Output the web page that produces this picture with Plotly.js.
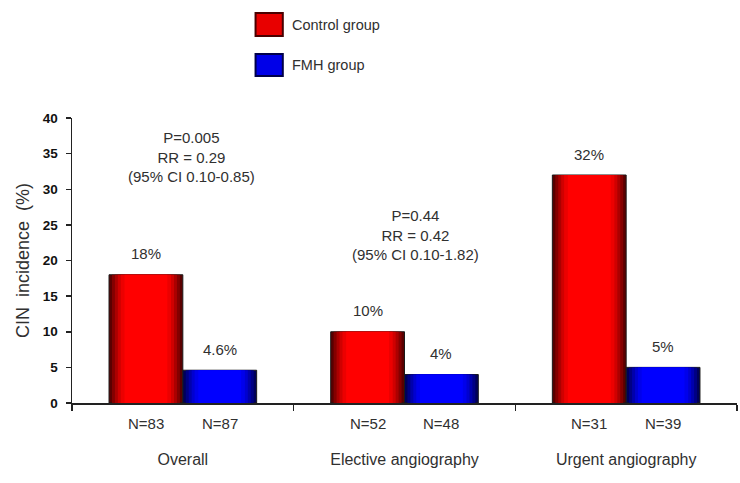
<!DOCTYPE html>
<html>
<head>
<meta charset="utf-8">
<script src="https://cdn.plot.ly/plotly-3.0.1.min.js"></script>
<style>
  html, body { margin: 0; padding: 0; background: #ffffff; }
  #chart { width: 740px; height: 483px; }
</style>
</head>
<body>
<div id="chart"></div>
<script>
// CIN incidence by group and angiography setting
const categories = ["Overall", "Elective angiography", "Urgent angiography"];
const controlValues = [18, 10, 32];
const fmhValues = [4.6, 4, 5];
const controlN = ["N=83", "N=52", "N=31"];
const fmhN = ["N=87", "N=48", "N=39"];
const seriesNames = ["Control group", "FMH group"];
const pValues = ["P=0.005", "P=0.44", "P=0.003"];
const rrValues = ["RR = 0.29", "RR = 0.42", "RR = 0.16"];
const ciValues = ["(95% CI 0.10-0.85)", "(95% CI 0.10-1.82)", "(95% CI 0.04-0.58)"];

// Shading ramps: edge -> centre, giving each bar a rounded, cylinder look
const redRamp  = ["#5a0000", "#840000", "#ac0000", "#d00000", "#ec0000", "#ff0000"];
const blueRamp = ["#00005a", "#000084", "#0000ac", "#0000d0", "#0000ec", "#0000ff"];
const layerFrac = [1.0, 0.92, 0.84, 0.76, 0.68, 0.58];

const FONT = "Arial, 'Liberation Sans', Helvetica, sans-serif";
const TXT = "#303030";
const barW = 0.333;   // width of one bar in category units

function shadedBars(values, ramp, side, name) {
  // side = -1 : bar sits left of category centre, +1 : right
  return layerFrac.map((f, k) => {
    const w = barW * f;
    const inset = barW * (1 - f) / 2;
    const off = side < 0 ? -barW + inset : inset;
    return {
      type: "bar",
      name: name,
      x: categories,
      y: values,
      width: categories.map(() => w),
      offset: categories.map(() => off),
      marker: {
        color: ramp[k],
        line: { color: k === 0 ? "#1a1a1a" : ramp[k], width: k === 0 ? 1 : 0 }
      },
      showlegend: false,
      hoverinfo: "skip"
    };
  });
}

const traces = [
  ...shadedBars(controlValues, redRamp, -1, seriesNames[0]),
  ...shadedBars(fmhValues, blueRamp, 1, seriesNames[1])
];

const annotations = [];

// value labels above bars and N labels below the axis
categories.forEach((c, i) => {
  const xc = i - barW / 2, xf = i + barW / 2;
  annotations.push({ x: xc, y: controlValues[i], xref: "x", yref: "y", text: controlValues[i] + "%",
    showarrow: false, yanchor: "middle", yshift: 21, font: { family: FONT, size: 15, color: TXT } });
  annotations.push({ x: xf, y: fmhValues[i], xref: "x", yref: "y", text: fmhValues[i] + "%",
    showarrow: false, yanchor: "middle", yshift: 21, font: { family: FONT, size: 15, color: TXT } });
  annotations.push({ x: xc, y: 0, xref: "x", yref: "paper", text: controlN[i],
    showarrow: false, yanchor: "middle", yshift: -20, font: { family: FONT, size: 15, color: TXT } });
  annotations.push({ x: xf, y: 0, xref: "x", yref: "paper", text: fmhN[i],
    showarrow: false, yanchor: "middle", yshift: -20, font: { family: FONT, size: 15, color: TXT } });
});

// statistics blocks
const statY = [34.5, 23.6, 46.3];
const statShift = [9, 11, 24];
categories.forEach((c, i) => {
  annotations.push({
    x: i, y: statY[i], xref: "x", yref: "y", xshift: statShift[i],
    text: pValues[i] + "<br>" + rrValues[i] + "<br>" + ciValues[i],
    showarrow: false, align: "center", yanchor: "middle",
    font: { family: FONT, size: 15, color: TXT }
  });
});

// legend entries
const legendRows = [
  { y0: 1.288, y1: 1.368, fill: "#e80000", edge: "#4a0000", ty: 1.328 },
  { y0: 1.147, y1: 1.225, fill: "#0000e8", edge: "#00004a", ty: 1.186 }
];
const shapes = legendRows.map(r => ({
  type: "rect", xref: "paper", yref: "paper",
  x0: 0.276, x1: 0.317, y0: r.y0, y1: r.y1,
  fillcolor: r.fill, line: { color: r.edge, width: 2 }
}));
legendRows.forEach((r, k) => {
  annotations.push({
    x: 0.328, y: r.ty, xref: "paper", yref: "paper", text: seriesNames[k],
    showarrow: false, xanchor: "left", yanchor: "middle",
    font: { family: FONT, size: 14.5, color: TXT }
  });
});

const layout = {
  width: 740, height: 483,
  margin: { l: 72, r: 3, t: 118, b: 80 },
  paper_bgcolor: "#ffffff", plot_bgcolor: "#ffffff",
  barmode: "overlay",
  showlegend: false,
  xaxis: {
    type: "category",
    range: [-0.5, 2.5],
    showline: true, linecolor: "#222222", linewidth: 1.5,
    ticks: "outside", tickson: "boundaries", ticklen: 6, tickcolor: "#222222", tickwidth: 1.5,
    ticklabelstandoff: 41,
    tickfont: { family: FONT, size: 16, color: TXT },
    showgrid: false, zeroline: false, fixedrange: true
  },
  yaxis: {
    range: [0, 40], dtick: 5,
    showline: true, linecolor: "#222222", linewidth: 1.5,
    ticks: "outside", ticklen: 5, tickcolor: "#222222", tickwidth: 1.5,
    ticklabelstandoff: 5,
    tickfont: { family: FONT, size: 13.5, color: "#111111", weight: "bold" },
    showgrid: false, zeroline: false, fixedrange: true,
    title: { text: "CIN\u00a0 incidence\u00a0 (%)", standoff: 8,
             font: { family: FONT, size: 18, color: TXT } }
  },
  annotations: annotations,
  shapes: shapes
};

Plotly.newPlot("chart", traces, layout, { displayModeBar: false, staticPlot: true });
</script>
</body>
</html>
